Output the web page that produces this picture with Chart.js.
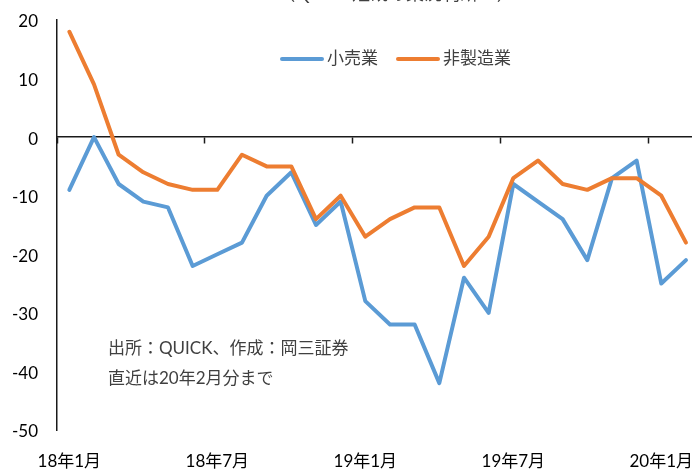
<!DOCTYPE html>
<html lang="ja">
<head>
<meta charset="utf-8">
<script src="https://cdn.jsdelivr.net/npm/chart.js@4.4.1/dist/chart.umd.min.js"></script>
<style>
  html, body { margin: 0; padding: 0; background: #fff; overflow: hidden; }
  #wrap { position: relative; width: 700px; height: 470px; }
</style>
</head>
<body>
<div id="wrap"><canvas id="diChart" width="700" height="470"></canvas></div>
<script>
const FONT = 'Lato, "Noto Sans CJK JP", sans-serif';

const months = [
  "18年1月", "18年2月", "18年3月", "18年4月", "18年5月", "18年6月",
  "18年7月", "18年8月", "18年9月", "18年10月", "18年11月", "18年12月",
  "19年1月", "19年2月", "19年3月", "19年4月", "19年5月", "19年6月",
  "19年7月", "19年8月", "19年9月", "19年10月", "19年11月", "19年12月",
  "20年1月", "20年2月",
];
const retail = [-9, 0, -8, -11, -12, -22, -20, -18, -10, -6, -15, -11, -28, -32, -32, -42, -24, -30, -8, -11, -14, -21, -7, -4, -25, -21];
const nonManufacturing = [18, 9, -3, -6, -8, -9, -9, -3, -5, -5, -14, -10, -17, -14, -12, -12, -22, -17, -7, -4, -8, -9, -7, -7, -10, -18];

const titleText = "（QUICK短観の業況判断DI）";
const noteLines = ["出所：QUICK、作成：岡三証券", "直近は20年2月分まで"];

// title (cut off at the top), legend inside the plot, source note
const textOverlay = {
  id: "textOverlay",
  afterDraw(chart) {
    const ctx = chart.ctx;
    ctx.save();
    ctx.font = "18px " + FONT;
    ctx.fillStyle = "#404040";
    ctx.textAlign = "center";
    ctx.textBaseline = "alphabetic";
    ctx.fillText(titleText, 396, -0.5);

    ctx.font = "17px " + FONT;
    ctx.textAlign = "left";
    ctx.textBaseline = "middle";
    let x = 282;
    const y = 59;
    chart.data.datasets.forEach((ds) => {
      ctx.strokeStyle = ds.borderColor;
      ctx.lineWidth = 4;
      ctx.lineCap = "round";
      ctx.beginPath();
      ctx.moveTo(x, y);
      ctx.lineTo(x + 40, y);
      ctx.stroke();
      ctx.fillStyle = "#404040";
      ctx.fillText(ds.label, x + 45, y);
      x += 45 + ctx.measureText(ds.label).width + 20;
    });

    ctx.fillText(noteLines[0], 108, 349);
    ctx.fillText(noteLines[1], 108, 379);
    ctx.restore();
  },
};

new Chart(document.getElementById("diChart").getContext("2d"), {
  type: "line",
  data: {
    labels: months,
    datasets: [
      { label: "小売業", data: retail, borderColor: "#5B9BD5", order: 1 },
      { label: "非製造業", data: nonManufacturing, borderColor: "#ED7D31", order: 0 },
    ],
  },
  options: {
    responsive: false,
    animation: false,
    layout: { padding: { top: 20, right: 1.7, bottom: 0, left: 0 } },
    elements: {
      point: { radius: 0 },
      line: { borderWidth: 4, tension: 0, borderJoinStyle: "round", borderCapStyle: "round", fill: false },
    },
    plugins: {
      legend: { display: false },
      title: { display: false },
      tooltip: { enabled: false },
    },
    scales: {
      x: {
        type: "category",
        position: "bottom",
        offset: true,
        afterFit(scale) {
          scale.height = 40;
          scale.paddingLeft = 0;
          scale.paddingRight = 0;
        },
        grid: { display: false, drawTicks: false },
        border: { display: false },
        ticks: {
          autoSkip: false,
          maxRotation: 0,
          padding: 23,
          color: "#000",
          font: { family: FONT, size: 17, lineHeight: 1 },
          callback(value, index) {
            return index % 6 === 0 ? this.getLabelForValue(value) : "";
          },
        },
      },
      // zero line with tick marks every 6 months
      xZero: {
        type: "category",
        axis: "x",
        position: { y: 0 },
        offset: true,
        grid: {
          offset: true,
          drawOnChartArea: false,
          drawTicks: true,
          tickLength: 6,
          tickWidth: 1.5,
          tickColor: (c) => (c.index % 6 === 0 ? "#1a1a1a" : "transparent"),
        },
        border: { display: true, color: "#1a1a1a", width: 1.5 },
        ticks: { display: false, autoSkip: false },
      },
      y: {
        min: -50,
        max: 20,
        position: "left",
        afterFit(scale) {
          scale.width = 57;
          scale.paddingTop = 0;
          scale.paddingBottom = 0;
        },
        grid: { display: false, drawTicks: false },
        border: { display: true, color: "#1a1a1a", width: 1.5 },
        ticks: {
          stepSize: 10,
          padding: 19,
          labelOffset: 2,
          color: "#000",
          font: { family: FONT, size: 17 },
        },
      },
    },
  },
  plugins: [textOverlay],
});
</script>
</body>
</html>
